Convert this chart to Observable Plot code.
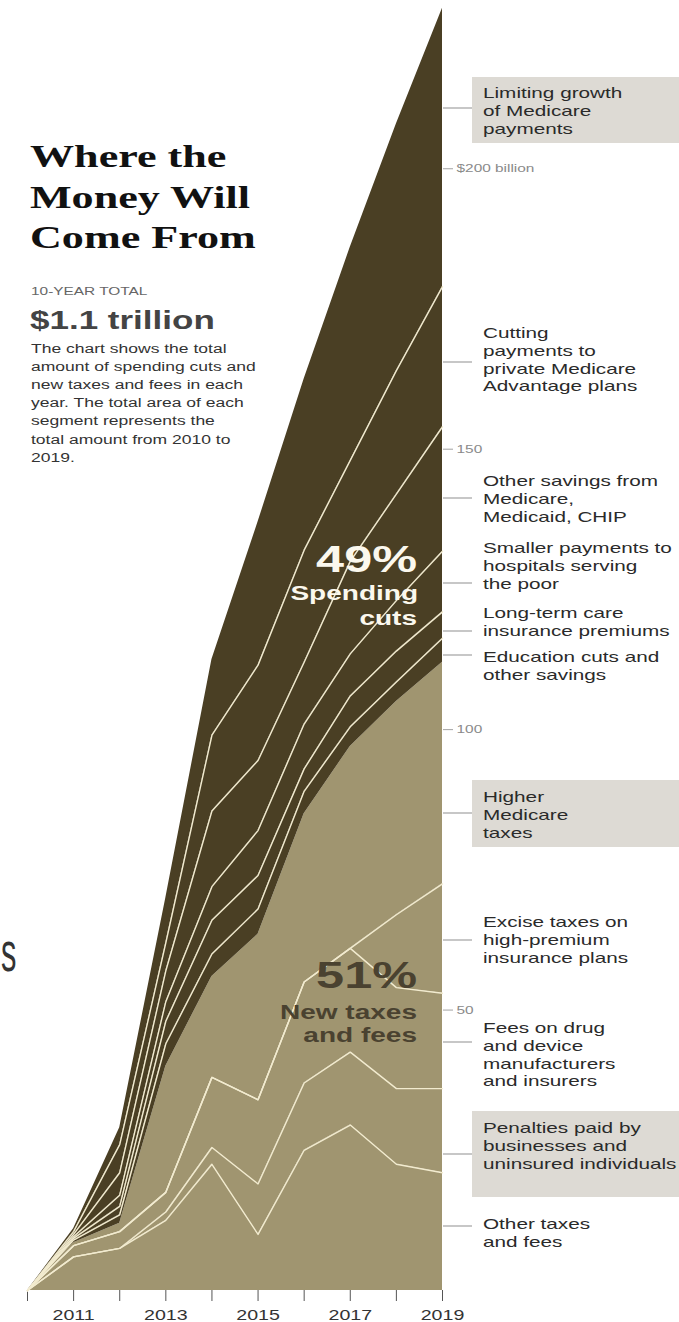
<!DOCTYPE html>
<html><head><meta charset="utf-8">
<script src="https://cdn.jsdelivr.net/npm/d3@7"></script>
<script src="https://cdn.jsdelivr.net/npm/@observablehq/plot@0.6"></script>
<style>
html,body{margin:0;padding:0;background:#fff;}
#chart{width:679px;height:1322px;position:relative;overflow:hidden}
#chart svg{display:block;font-family:"Liberation Sans",Arial,sans-serif}
g[aria-label="x-axis tick label"] text{font-size:14px;fill:#333}
g[aria-label="y-axis tick label"] text{font-size:11px;fill:#8a8a8a}
g[aria-label="x-axis tick"]{stroke:#555}
g[aria-label="y-axis tick"]{stroke:#a3a3a3}
</style></head><body><div id="chart"></div>
<script>
// ---- data (billions of dollars per year) ----
const years = [2010, 2011, 2012, 2013, 2014, 2015, 2016, 2017, 2018, 2019];
const otherTaxes        = [0, 6, 7.5, 12.5, 22.5, 10, 25, 29.5, 22.5, 21];
const penalties         = [0, 0, 0, 1.5, 3, 9, 12, 13, 13.5, 15];
const drugFees          = [0, 2, 3, 3.5, 12.5, 15, 18, 18.5, 18, 17];
const exciseTaxes       = [0, 0, 0, 0, 0, 0, 0, 0, 13, 19.5];
const medicareTaxes     = [0, 0.5, 1.5, 22.5, 18, 29.5, 30, 36, 38, 39.5];
const educationCuts     = [0, 0.5, 1.5, 4, 4, 4.5, 4, 3.5, 3.5, 4.3];
const longTermCare      = [0, 0.3, 1.5, 4, 6, 6, 4, 5.5, 5.5, 4.7];
const hospitalPayments  = [0, 0.3, 2, 3.5, 6, 8, 8, 7.5, 9, 10.8];
const otherSavings      = [0, 0.4, 4, 5.5, 13.5, 12.5, 11, 16.5, 19, 22.2];
const medicareAdvantage = [0, 0.5, 5, 5, 13.5, 17, 20, 18, 22, 25];
const medicareGrowth    = [0, 0.5, 3, 8, 13.5, 25.5, 30.5, 38, 44, 49.6];

const categories = ["Other taxes and fees", "Penalties", "Fees on drug and device makers", "Excise taxes",
  "Higher Medicare taxes", "Education cuts", "Long-term care premiums", "Hospital payments",
  "Other savings", "Medicare Advantage", "Medicare growth"];
const groups = ["taxes","taxes","taxes","taxes","taxes","cuts","cuts","cuts","cuts","cuts","cuts"];
const seriesValues = [otherTaxes, penalties, drugFees, exciseTaxes, medicareTaxes, educationCuts,
  longTermCare, hospitalPayments, otherSavings, medicareAdvantage, medicareGrowth];
const noDivider = ["Higher Medicare taxes", "Medicare growth"];
const yTicks = [50, 100, 150, 200];

const LIGHT = "#a09570", DARK = "#4a3f24", LINE = "#f2ebcf";

const data = categories.flatMap((c, i) => years.map((yr, j) => ({year: yr, cat: c, group: groups[i], value: seriesValues[i][j]})));

const svg = Plot.plot({
  width: 679, height: 1322,
  marginLeft: 27, marginRight: 237, marginTop: 0, marginBottom: 32,
  style: {background: "#fff"},
  x: {domain: [2010, 2019], ticks: years, tickFormat: d => d % 2 ? String(d) : "", tickSize: 11, tickPadding: 9, label: null},
  y: {domain: [0, 230], axis: "right", ticks: yTicks, tickFormat: d => d === 200 ? "$200 billion" : String(d), tickSize: 10, tickPadding: 4, label: null},
  color: {type: "identity"},
  marks: [
    Plot.areaY(data, {x: "year", y: "value", z: "cat", order: categories, fill: d => d.group === "taxes" ? LIGHT : DARK}),
    Plot.lineY(data, Plot.stackY2({x: "year", y: "value", z: "cat", order: categories,
      stroke: d => noDivider.includes(d.cat) ? "none" : LINE, strokeWidth: 1.4}))
  ]
});
document.getElementById("chart").appendChild(svg);

// ---- annotations ----
const S = 1.4; // horizontal stretch of the original lettering
const ann = d3.select(svg).append("g");
const labels = [
  {lines: ["Limiting growth", "of Medicare", "payments"], y0: 98, leader: 108, box: [77, 143]},
  {lines: ["Cutting", "payments to", "private Medicare", "Advantage plans"], y0: 338, leader: 362},
  {lines: ["Other savings from", "Medicare,", "Medicaid, CHIP"], y0: 486, leader: 498},
  {lines: ["Smaller payments to", "hospitals serving", "the poor"], y0: 553, leader: 583},
  {lines: ["Long-term care", "insurance premiums"], y0: 618, leader: 631},
  {lines: ["Education cuts and", "other savings"], y0: 662, leader: 655},
  {lines: ["Higher", "Medicare", "taxes"], y0: 802, leader: 813, box: [780, 847]},
  {lines: ["Excise taxes on", "high-premium", "insurance plans"], y0: 927, leader: 940},
  {lines: ["Fees on drug", "and device", "manufacturers", "and insurers"], y0: 1033, leader: 1042},
  {lines: ["Penalties paid by", "businesses and", "uninsured individuals"], y0: 1133, leader: 1154, box: [1111, 1197]},
  {lines: ["Other taxes", "and fees"], y0: 1229, leader: 1226}
];
const texts = [];
function addText(str, x, y, opts = {}) {
  const t = ann.append("text").attr("x", x).attr("y", y)
    .attr("font-family", opts.family || '"Liberation Sans", Arial, sans-serif')
    .attr("font-size", opts.size || 14.8)
    .attr("font-weight", opts.weight || "normal")
    .attr("fill", opts.fill || "#2a2a2a")
    .attr("text-anchor", opts.anchor || "start")
    .text(str);
  texts.push({node: t.node(), s: opts.stretch || S});
  return t;
}
for (const lab of labels) {
  if (lab.box) ann.append("rect").attr("x", 472).attr("y", lab.box[0]).attr("width", 679 - 472)
    .attr("height", lab.box[1] - lab.box[0]).attr("fill", "#dddad4");
  ann.append("line").attr("x1", 443).attr("x2", 472).attr("y1", lab.leader).attr("y2", lab.leader)
    .attr("stroke", "#8f8f8f").attr("stroke-width", 1);
  lab.lines.forEach((ln, i) => addText(ln, 483, lab.y0 + i * 17.8));
}
// title block
const serif = '"Liberation Serif", "Times New Roman", serif';
["Where the", "Money Will", "Come From"].forEach((ln, i) =>
  addText(ln, 30, 167 + i * 40.5, {family: serif, size: 31.5, weight: "bold", fill: "#111"}));
addText("10-YEAR TOTAL", 31, 295, {size: 11, fill: "#666"});
addText("$1.1 trillion", 30, 329, {size: 25, weight: "bold", fill: "#444"});
["The chart shows the total", "amount of spending cuts and", "new taxes and fees in each",
 "year. The total area of each", "segment represents the", "total amount from 2010 to", "2019."]
  .forEach((ln, i) => addText(ln, 31, 353 + i * 18.1, {size: 12.5, fill: "#333"}));
// in-chart labels
addText("49%", 417, 572, {size: 36, weight: "bold", fill: "#fbf8ee", anchor: "end"});
addText("Spending", 418, 600, {size: 20, weight: "bold", fill: "#fbf8ee", anchor: "end"});
addText("cuts", 417, 625, {size: 20, weight: "bold", fill: "#fbf8ee", anchor: "end"});
addText("51%", 417, 988, {size: 36, weight: "bold", fill: "#4a4230", anchor: "end"});
addText("New taxes", 417, 1019, {size: 20, weight: "bold", fill: "#4a4230", anchor: "end"});
addText("and fees", 417, 1042, {size: 20, weight: "bold", fill: "#4a4230", anchor: "end"});
// stray glyph at the left edge of the original
addText("s", 1, 971, {size: 56, fill: "#333", stretch: 0.55});

function stretch(el, s) {
  const L = el.getComputedTextLength();
  if (!L || s === 1) return;
  const anchor = getComputedStyle(el).textAnchor;
  const x0 = el.x.baseVal.length ? el.x.baseVal[0].value : 0;
  const W = L * s;
  let x = x0;
  if (anchor === "middle") x = x0 - W / 2;
  else if (anchor === "end") x = x0 - W;
  el.setAttribute("text-anchor", "start");
  el.setAttribute("x", x);
  el.setAttribute("textLength", W);
  el.setAttribute("lengthAdjust", "spacingAndGlyphs");
}
svg.querySelectorAll('g[aria-label="x-axis tick label"] text, g[aria-label="y-axis tick label"] text')
  .forEach(el => stretch(el, S));
texts.forEach(t => stretch(t.node, t.s));
</script></body></html>
